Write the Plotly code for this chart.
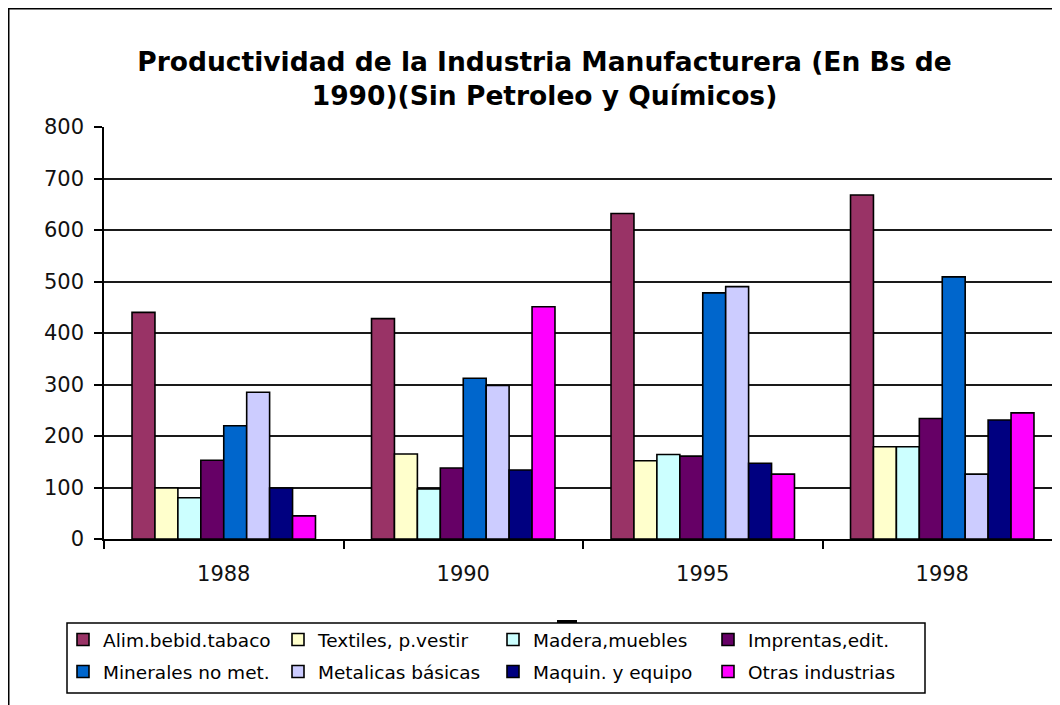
import plotly.graph_objects as go

years = ["1988", "1990", "1995", "1998"]
series_names = [
    "Alim.bebid.tabaco", "Textiles, p.vestir", "Madera,muebles", "Imprentas,edit.",
    "Minerales no met.", "Metalicas básicas", "Maquin. y equipo", "Otras industrias",
]
alim = [440, 428, 632, 668]
textiles = [99, 165, 152, 179]
madera = [80, 97, 164, 179]
imprentas = [153, 138, 161, 234]
minerales = [220, 312, 478, 509]
metalicas = [285, 298, 490, 126]
maquin = [99, 134, 147, 231]
otras = [45, 451, 126, 245]
values = [alim, textiles, madera, imprentas, minerales, metalicas, maquin, otras]
colors = ["#993366", "#FFFFCC", "#CCFFFF", "#660066", "#0066CC", "#CCCCFF", "#000080", "#FF00FF"]
y_ticks = [0, 100, 200, 300, 400, 500, 600, 700, 800]

# page body has an 8px margin: the figure starts at screen (8, 8)
OFF = 8
W, H = 1060 - OFF, 705 - OFF
L, R, T, B = 104 - OFF, 0, 127 - OFF, 166
pw, ph = W - L - R, H - T - B
cat_w = 239.5


def px(sx):
    return (sx - OFF - L) / pw


def py(sy):
    return (H - B - (sy - OFF)) / ph


fig = go.Figure()
for i, (name, vals, col) in enumerate(zip(series_names, values, colors)):
    fig.add_trace(go.Bar(
        x=years, y=vals, name=name,
        marker=dict(color=col, line=dict(color="black", width=1.6)),
        legend="legend" if i < 4 else "legend2",
    ))

legend_common = dict(
    orientation="h", xref="container", yref="container",
    x=(63 - OFF) / W, xanchor="left", yanchor="middle",
    font=dict(family="DejaVu Sans", size=18.5, color="black"),
    bgcolor="rgba(0,0,0,0)", borderwidth=0,
    entrywidth=170, entrywidthmode="pixels",
    traceorder="normal",
)

fig.update_layout(
    width=W, height=H,
    margin=dict(l=L, r=R, t=T, b=B, autoexpand=False),
    paper_bgcolor="white", plot_bgcolor="white",
    barmode="group", bargap=0.234, bargroupgap=0,
    title=dict(
        text="Productividad de la Industria Manufacturera (En Bs de<br>1990)(Sin Petroleo y Químicos)",
        x=(544.5 - OFF) / W, xref="container", xanchor="center",
        y=1 - (71 - OFF) / H, yref="container", yanchor="middle",
        font=dict(family="DejaVu Sans", size=26.5, color="black", weight="bold"),
    ),
    legend=dict(legend_common, y=1 - (640 - OFF) / H),
    legend2=dict(legend_common, y=1 - (672 - OFF) / H),
    xaxis=dict(
        type="category", range=[-0.5, -0.5 + pw / cat_w],
        showline=True, linecolor="black", linewidth=1.5,
        ticks="outside", tickson="boundaries", ticklen=8, tickcolor="black", tickwidth=1.5,
        tickfont=dict(family="DejaVu Sans", size=21, color="#111"),
        showgrid=False, ticklabelstandoff=15,
    ),
    yaxis=dict(
        range=[0, 800], tickvals=y_ticks,
        showline=True, linecolor="black", linewidth=1.5,
        ticks="outside", ticklen=8, tickcolor="black", tickwidth=1.5,
        tickfont=dict(family="DejaVu Sans", size=21, color="#111"),
        showgrid=True, gridcolor="#1a1a1a", gridwidth=1.5,
        zeroline=False, ticklabelstandoff=6,
    ),
    shapes=[
        dict(type="rect", xref="paper", yref="paper",
             x0=px(8.5), x1=px(1080), y0=py(8.5), y1=py(730),
             line=dict(color="black", width=2), fillcolor="rgba(0,0,0,0)", layer="above"),
        dict(type="rect", xref="paper", yref="paper",
             x0=px(67), x1=px(925), y0=py(623), y1=py(693),
             line=dict(color="black", width=1.5), fillcolor="rgba(0,0,0,0)"),
        dict(type="rect", xref="paper", yref="paper",
             x0=px(557), x1=px(577), y0=py(620), y1=py(623),
             line=dict(width=0), fillcolor="black"),
    ],
)

fig.write_html("out.html")
